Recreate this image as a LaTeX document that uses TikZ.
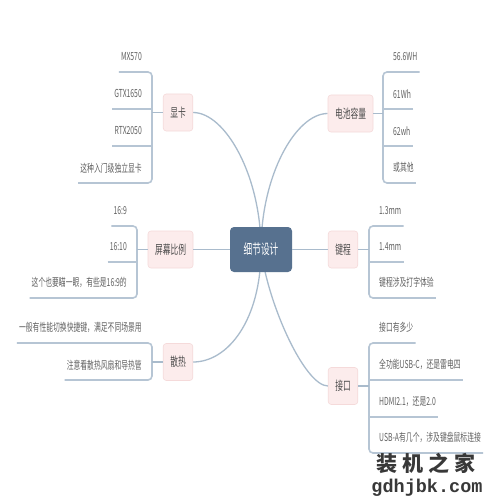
\documentclass[tikz,border=0pt]{standalone}
\usepackage{fontspec}
\setmainfont[FakeStretch=0.62]{Noto Sans CJK SC}
\newfontfamily\markfont{Noto Sans CJK SC}
\newfontfamily\urlfont{Liberation Mono}
\usepackage{tikz}
\usetikzlibrary{positioning,backgrounds}

\definecolor{rootblue}{HTML}{57718F}
\definecolor{topicpink}{HTML}{FCECEC}
\definecolor{topicedge}{HTML}{F5DADA}
\definecolor{linkblue}{HTML}{A9BBCC}

\begin{document}
\begin{tikzpicture}[x=1pt,y=-1pt,
  root/.style={fill=rootblue,rounded corners=4pt,minimum width=62pt,minimum height=45pt,
    text=white,font=\fontsize{14}{14}\selectfont},
  topic/.style={fill=topicpink,draw=topicedge,line width=0.6pt,rounded corners=3pt,
    minimum height=37pt,inner xsep=7pt,text=black!70,font=\fontsize{12.5}{12.5}\selectfont},
  leaf/.style={minimum height=30pt,inner xsep=2pt,inner ysep=0pt,text=black!62,
    font=\fontsize{11}{11}\selectfont},
  lleaf/.style={leaf,anchor=south east},
  rleaf/.style={leaf,anchor=south west},
  link/.style={draw=linkblue,line width=1.3pt},
  under/.style={draw=linkblue!85!white,line width=1.6pt,rounded corners=4pt}]
  \useasboundingbox (0,0) rectangle (500,500);

  % Centre and main topics
  \node[root] (root) at (261,249.5) {细节设计};
  \node[topic] (gpu) at (178,112.5) {显卡};
  \node[topic] (bat) at (350.5,113.5) {电池容量};
  \node[topic] (scr) at (170.5,249.5) {屏幕比例};
  \node[topic] (key) at (343,249.5) {键程};
  \node[topic] (heat) at (178,362) {散热};
  \node[topic] (port) at (343,386) {接口};

  % Bracket joints
  \coordinate (gpu-b) at (152,112.5);
  \coordinate (bat-b) at (383,113.5);
  \coordinate (scr-b) at (137,249.5);
  \coordinate (key-b) at (369,249.5);
  \coordinate (heat-b) at (152,362);
  \coordinate (port-b) at (369,386);

  % Leaves
  \node[lleaf] (gpu1) at (144,72) {MX570};
  \node[lleaf] (gpu2) at (144,109) {GTX1650};
  \node[lleaf] (gpu3) at (144,146) {RTX2050};
  \node[lleaf] (gpu4) at (144,183) {这种入门级独立显卡};
  \node[rleaf] (bat1) at (391,72) {56.6WH};
  \node[rleaf] (bat2) at (391,109) {61Wh};
  \node[rleaf] (bat3) at (391,146) {62wh};
  \node[rleaf] (bat4) at (391,183) {或其他};
  \node[lleaf] (scr1) at (129,226) {16:9};
  \node[lleaf] (scr2) at (129,262) {16:10};
  \node[lleaf] (scr3) at (129,298) {这个也要瞄一眼，有些是16:9的};
  \node[rleaf] (key1) at (377,226) {1.3mm};
  \node[rleaf] (key2) at (377,262) {1.4mm};
  \node[rleaf] (key3) at (377,298) {键程涉及打字体验};
  \node[lleaf] (heat1) at (144,343) {一般有性能切换快捷键，满足不同场景用};
  \node[lleaf] (heat2) at (144,380) {注意看散热风扇和导热管};
  \node[rleaf] (port1) at (377,343) {接口有多少};
  \node[rleaf] (port2) at (377,380) {全功能USB-C，还是雷电四};
  \node[rleaf] (port3) at (377,417) {HDMI2.1，还是2.0};
  \node[rleaf] (port4) at (377,453) {USB-A有几个，涉及键盘鼠标连接};

  % Brackets and underlines
  \draw[under] (gpu1.south west) -- (gpu1.south -| gpu-b) -- (gpu4.south -| gpu-b) -- (gpu4.south west);
  \draw[under] (gpu2.south west) -- (gpu2.south -| gpu-b);
  \draw[under] (gpu3.south west) -- (gpu3.south -| gpu-b);
  \draw[under] (bat1.south east) -- (bat1.south -| bat-b) -- (bat4.south -| bat-b) -- (bat4.south east);
  \draw[under] (bat2.south east) -- (bat2.south -| bat-b);
  \draw[under] (bat3.south east) -- (bat3.south -| bat-b);
  \draw[under] (scr1.south west) -- (scr1.south -| scr-b) -- (scr3.south -| scr-b) -- (scr3.south west);
  \draw[under] (scr2.south west) -- (scr2.south -| scr-b);
  \draw[under] (key1.south east) -- (key1.south -| key-b) -- (key3.south -| key-b) -- (key3.south east);
  \draw[under] (key2.south east) -- (key2.south -| key-b);
  \draw[under] (heat1.south west) -- (heat1.south -| heat-b) -- (heat2.south -| heat-b) -- (heat2.south west);
  \draw[under] (port1.south east) -- (port1.south -| port-b) -- (port4.south -| port-b) -- (port4.south east);
  \draw[under] (port2.south east) -- (port2.south -| port-b);
  \draw[under] (port3.south east) -- (port3.south -| port-b);

  % Topic to bracket
  \draw[link] (gpu) -- (gpu-b);
  \draw[link] (bat) -- (bat-b);
  \draw[link] (scr) -- (scr-b);
  \draw[link] (key) -- (key-b);
  \draw[link] (heat) -- (heat-b);
  \draw[link] (port) -- (port-b);

  % Centre to topics
  \draw[link] (root) -- (scr);
  \draw[link] (root) -- (key);
  \begin{scope}[on background layer]
    \fill[white] (0,0) rectangle (500,500);
    \draw[link] (root.center) .. controls (261,175) and (225,112.5) .. (gpu.east);
    \draw[link] (root.center) .. controls (261,175) and (296,113.5) .. (bat.west);
    \draw[link] (root.center) .. controls (261,320) and (228,362) .. (heat.east);
    \draw[link] (root.center) .. controls (268,305) and (305,386) .. (port.west);
  \end{scope}

  % Watermark
  \node[font=\markfont\bfseries\fontsize{21}{21}\selectfont,text=black!78] (mark) at (426,463)
    {装\hspace{5pt}机\hspace{5pt}之\hspace{5pt}家};
  \node[font=\urlfont\bfseries\fontsize{18.5}{18.5}\selectfont,text=black!78] (url) at (427,488) {gdhjbk.com};
\end{tikzpicture}
\end{document}
